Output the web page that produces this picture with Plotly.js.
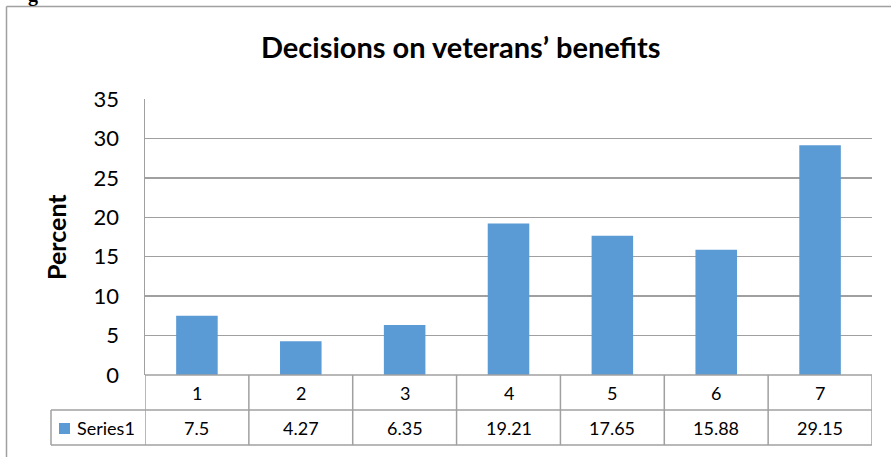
<!DOCTYPE html>
<html>
<head>
<meta charset="utf-8">
<script src="https://cdn.plot.ly/plotly-3.0.1.min.js"></script>
<style>
html,body{margin:0;padding:0;background:#fff;}
#chart{width:891px;height:457px;}
</style>
</head>
<body>
<div id="chart"></div>
<script>
var categories = ['1','2','3','4','5','6','7'];
var values = [7.5, 4.27, 6.35, 19.21, 17.65, 15.88, 29.15];
var valueLabels = ['7.5','4.27','6.35','19.21','17.65','15.88','29.15'];
var seriesName = 'Series1';
var chartTitle = 'Decisions on veterans\u2019 benefits';
var yTitle = 'Percent';
var yTicks = [0,5,10,15,20,25,30,35];

var FONT = 'Lato, "Open Sans", sans-serif';
var BAR = '#5b9bd5';
var LINE = '#a0a0a0';

// pixel geometry helpers (plot area: x 145..872, y 99..375)
var L = 145, R = 19, T = 99, B = 82, W = 891, H = 457;
var pw = W - L - R, ph = H - T - B;
function px(x){ return (x - L) / pw; }
function py(y){ return (H - B - y) / ph; }

var shapes = [];
var annotations = [];
var n = categories.length;

// outer frame (top and left edges)
shapes.push({type:'line', xref:'paper', yref:'paper', x0:px(6.5), x1:px(900), y0:py(6.5), y1:py(6.5), line:{color:LINE, width:1.5}});
shapes.push({type:'line', xref:'paper', yref:'paper', x0:px(6.5), x1:px(6.5), y0:py(6.5), y1:py(470), line:{color:LINE, width:1.5}});

// data table lines
shapes.push({type:'line', xref:'paper', yref:'paper', x0:0, x1:1, y0:py(375), y1:py(375), line:{color:LINE, width:1.5}});
shapes.push({type:'line', xref:'paper', yref:'paper', x0:px(51), x1:1, y0:py(410), y1:py(410), line:{color:LINE, width:1.5}});
shapes.push({type:'line', xref:'paper', yref:'paper', x0:px(51), x1:1, y0:py(445), y1:py(445), line:{color:LINE, width:1.5}});
shapes.push({type:'line', xref:'paper', yref:'paper', x0:px(51), x1:px(51), y0:py(410), y1:py(445), line:{color:LINE, width:1.5}});
for (var i = 0; i <= n; i++) {
  shapes.push({type:'line', xref:'x', yref:'paper', x0:i-0.5, x1:i-0.5, y0:py(375), y1:py(445), line:{color:LINE, width:1.5}});
}
// legend key
shapes.push({type:'rect', xref:'paper', yref:'paper', x0:px(59), x1:px(70), y0:py(423), y1:py(434), fillcolor:BAR, line:{width:0}});

for (var j = 0; j < n; j++) {
  annotations.push({xref:'x', yref:'paper', x:j, y:py(392.5), text:categories[j], showarrow:false, xanchor:'center', yanchor:'middle', font:{family:FONT, size:18, color:'#000'}});
  annotations.push({xref:'x', yref:'paper', x:j, y:py(427.5), text:valueLabels[j], showarrow:false, xanchor:'center', yanchor:'middle', font:{family:FONT, size:18, color:'#000'}});
}
annotations.push({xref:'paper', yref:'paper', x:px(75), y:py(427.5), text:seriesName, showarrow:false, xanchor:'left', yanchor:'middle', font:{family:FONT, size:18, color:'#000'}});
annotations.push({xref:'paper', yref:'paper', x:px(56), y:py(237), text:'<b>'+yTitle+'</b>', textangle:-90, showarrow:false, xanchor:'center', yanchor:'middle', font:{family:FONT, size:25, color:'#000'}});
annotations.push({xref:'paper', yref:'paper', x:px(461), y:py(46), text:'<b>'+chartTitle+'</b>', showarrow:false, xanchor:'center', yanchor:'middle', font:{family:FONT, size:29, color:'#000'}});
annotations.push({xref:'paper', yref:'paper', x:px(33), y:py(-6), text:'<b>g</b>', showarrow:false, xanchor:'center', yanchor:'middle', font:{family:'Liberation Serif, serif', size:20, color:'#000'}});

var trace = {
  type:'bar', x:categories, y:values, name:seriesName,
  marker:{color:BAR, line:{width:0}}, width:0.4, hoverinfo:'x+y'
};

var layout = {
  width:W, height:H,
  margin:{l:L, r:R, t:T, b:B, pad:0},
  paper_bgcolor:'#fff', plot_bgcolor:'#fff',
  showlegend:false,
  xaxis:{type:'category', range:[-0.5, n-0.5], showticklabels:false, showgrid:false, zeroline:false, showline:false, ticks:''},
  yaxis:{range:[0,35], tickvals:yTicks, ticktext:yTicks.map(String), showgrid:true, gridcolor:LINE, gridwidth:1.5,
         zeroline:false, showline:true, linecolor:LINE, linewidth:1.5, ticks:'', ticklabelstandoff:20,
         tickfont:{family:FONT, size:22, color:'#000'}},
  shapes:shapes, annotations:annotations,
  font:{family:FONT}
};

Plotly.newPlot('chart', [trace], layout, {displayModeBar:false, staticPlot:true});
</script>
</body>
</html>
